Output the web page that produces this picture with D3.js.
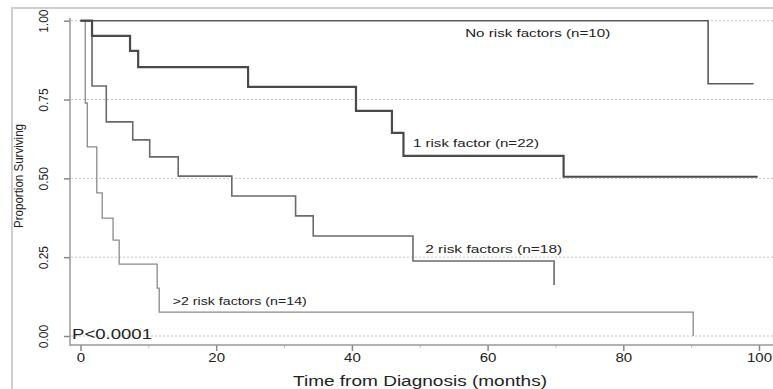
<!DOCTYPE html>
<html>
<head>
<meta charset="utf-8">
<script src="https://cdn.jsdelivr.net/npm/d3@7"></script>
<style>
	body { margin: 0; background: #fff; }
	svg { display: block; font-family: Arial, 'Liberation Sans', sans-serif; }
</style>
</head>
<body>
<div id="chart"></div>
<script>
// survival curves (months, proportion surviving)
const noRiskTimes = [0, 92.5, 99.2];
const noRiskSurv = [1, 0.8, 0.8];

const oneRiskTimes = [0, 1.7, 7.3, 8.5, 24.7, 40.6, 45.9, 47.6, 71.2, 99.8];
const oneRiskSurv = [1, 0.952, 0.904, 0.853, 0.79, 0.714, 0.644, 0.571, 0.505, 0.505];

const twoRiskTimes = [0, 1.7, 3.8, 7.7, 10.2, 14.4, 22.3, 31.7, 34.3, 49.0, 69.8];
const twoRiskSurv = [1, 0.793, 0.679, 0.622, 0.568, 0.507, 0.444, 0.381, 0.317, 0.238, 0.162];

const moreRiskTimes = [0, 0.7, 1.0, 2.4, 3.2, 4.8, 5.7, 11.3, 11.6, 90.3];
const moreRiskSurv = [1, 0.739, 0.6, 0.454, 0.374, 0.304, 0.228, 0.152, 0.076, 0];

const seriesLabels = ['No risk factors (n=10)', '1 risk factor (n=22)', '2 risk factors (n=18)', '>2 risk factors (n=14)'];

const xTicks = [0, 20, 40, 60, 80, 100];
const yTicks = [0, 0.25, 0.5, 0.75, 1];

class KMVis {
	constructor(parentElement) {
		this.parentElement = parentElement;
		this.width = 773;
		this.height = 389;
		this.initVis();
	}

	initVis() {
		let vis = this;

		vis.svg = d3.select('#' + vis.parentElement).append('svg')
			.attr('width', vis.width)
			.attr('height', vis.height);

		// outer frame (only left and top show in the picture)
		vis.svg.append('path')
			.attr('d', 'M12,389V8H773')
			.attr('fill', 'none')
			.attr('stroke', '#cfcfcf')
			.attr('stroke-width', 2);

		vis.x = d3.scaleLinear().domain([0, 100]).range([80.5, 759]);
		vis.y = d3.scaleLinear().domain([0, 1]).range([336, 20.7]);

		// gridlines
		vis.svg.append('g').selectAll('line')
			.data(yTicks)
			.enter().append('line')
			.attr('x1', 71).attr('x2', 773)
			.attr('y1', d => vis.y(d)).attr('y2', d => vis.y(d))
			.attr('stroke', '#c4c4c4')
			.attr('stroke-width', 1)
			.attr('stroke-dasharray', '2,2');

		// axes
		let xAxis = d3.axisBottom(vis.x).tickValues(xTicks).tickSize(6).tickFormat(d3.format('d'));
		let gx = vis.svg.append('g').attr('transform', 'translate(0,345)').call(xAxis);
		gx.select('.domain').remove();
		gx.selectAll('line').attr('stroke', '#888').attr('stroke-width', 1.5);
		gx.selectAll('text').attr('font-size', 12.5).attr('fill', '#222').attr('dy', '0.6em');
		// the picture is stretched sideways a little
		gx.selectAll('text').each(function () {
			d3.select(this).attr('textLength', this.getComputedTextLength() * 1.2).attr('lengthAdjust', 'spacingAndGlyphs');
		});

		let gxMinor = vis.svg.append('g').attr('transform', 'translate(0,345)')
			.call(d3.axisBottom(vis.x).tickValues(d3.range(10, 100, 20)).tickSize(3).tickFormat(''));
		gxMinor.select('.domain').remove();
		gxMinor.selectAll('line').attr('stroke', '#bbb');

		vis.svg.append('line')
			.attr('x1', 70).attr('x2', 773).attr('y1', 345).attr('y2', 345)
			.attr('stroke', '#999').attr('stroke-width', 1.5);

		let yAxis = d3.axisLeft(vis.y).tickValues(yTicks).tickSize(6).tickFormat(d3.format('.2f'));
		let gy = vis.svg.append('g').attr('transform', 'translate(70,0)').call(yAxis);
		gy.select('.domain').remove();
		gy.selectAll('line').attr('stroke', '#888').attr('stroke-width', 1.5);
		gy.selectAll('text')
			.attr('font-size', 12)
			.attr('fill', '#222')
			.attr('x', null).attr('dy', null)
			.attr('text-anchor', 'middle')
			.attr('transform', 'translate(-22,0) rotate(-90)');

		vis.svg.append('line')
			.attr('x1', 70).attr('x2', 70).attr('y1', 18).attr('y2', 346)
			.attr('stroke', '#999').attr('stroke-width', 1.5);

		// axis titles
		vis.svg.append('text')
			.attr('x', 420).attr('y', 386)
			.attr('text-anchor', 'middle')
			.attr('font-size', 14)
			.attr('fill', '#222')
			.attr('textLength', 254)
			.attr('lengthAdjust', 'spacingAndGlyphs')
			.text('Time from Diagnosis (months)');

		vis.svg.append('text')
			.attr('transform', 'translate(23,176) rotate(-90)')
			.attr('text-anchor', 'middle')
			.attr('font-size', 12)
			.attr('fill', '#222')
			.attr('textLength', 104)
			.attr('lengthAdjust', 'spacingAndGlyphs')
			.text('Proportion Surviving');

		vis.updateVis();
	}

	updateVis() {
		let vis = this;

		let line = d3.line()
			.x(d => vis.x(d[0]))
			.y(d => vis.y(d[1]))
			.curve(d3.curveStepAfter);

		let series = [
			{ times: moreRiskTimes, surv: moreRiskSurv, color: '#8a8a8a', w: 1.3 },
			{ times: twoRiskTimes, surv: twoRiskSurv, color: '#6a6a6a', w: 1.6 },
			{ times: noRiskTimes, surv: noRiskSurv, color: '#5a5a5a', w: 1.6 },
			{ times: oneRiskTimes, surv: oneRiskSurv, color: '#4a4a4a', w: 2.2 }
		];

		vis.svg.selectAll('.km')
			.data(series)
			.enter().append('path')
			.attr('class', 'km')
			.attr('d', d => line(d.times.map((t, i) => [t, d.surv[i]])))
			.attr('fill', 'none')
			.attr('stroke', d => d.color)
			.attr('stroke-width', d => d.w);

		// curve labels, placed in data units
		let labelPos = [
			{ t: 56.7, s: 0.948, len: 145 },
			{ t: 49.0, s: 0.6, len: 126 },
			{ t: 50.8, s: 0.263, len: 137 },
			{ t: 13.6, s: 0.098, len: 134 }
		];

		vis.svg.selectAll('.km-label')
			.data(seriesLabels)
			.enter().append('text')
			.attr('class', 'km-label')
			.attr('x', (d, i) => vis.x(labelPos[i].t))
			.attr('y', (d, i) => vis.y(labelPos[i].s))
			.attr('font-size', 10.5)
			.attr('fill', '#222')
			.attr('textLength', (d, i) => labelPos[i].len)
			.attr('lengthAdjust', 'spacingAndGlyphs')
			.text(d => d);

		vis.svg.append('text')
			.attr('x', 72).attr('y', 339)
			.attr('font-size', 15)
			.attr('fill', '#222')
			.attr('textLength', 80)
			.attr('lengthAdjust', 'spacingAndGlyphs')
			.text('P<0.0001');
	}
}

new KMVis('chart');
</script>
</body>
</html>
